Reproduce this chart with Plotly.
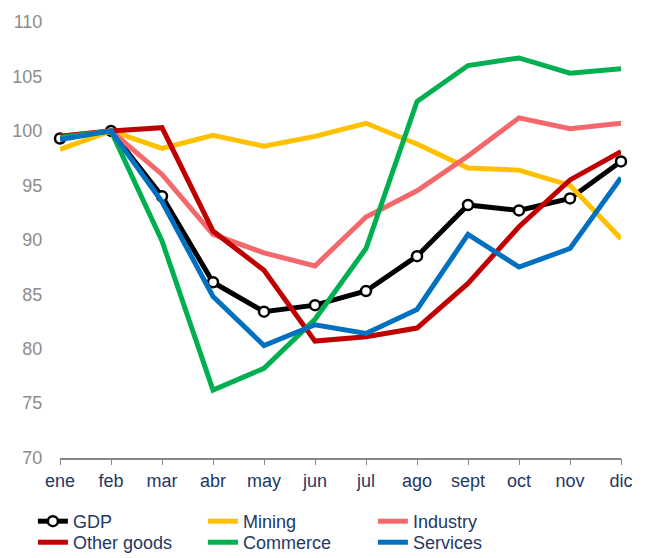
import plotly.graph_objects as go

months = ["ene", "feb", "mar", "abr", "may", "jun", "jul", "ago", "sept", "oct", "nov", "dic"]
gdp = [99.3, 100.0, 94.0, 86.1, 83.4, 84.0, 85.3, 88.5, 93.2, 92.7, 93.8, 97.2]
mining = [98.3, 100.0, 98.4, 99.6, 98.6, 99.5, 100.7, 98.8, 96.6, 96.4, 95.0, 90.1]
industry = [99.5, 100.0, 96.0, 90.5, 88.8, 87.6, 92.1, 94.5, 97.7, 101.2, 100.2, 100.7]
other_goods = [99.5, 100.0, 100.3, 90.8, 87.2, 80.7, 81.1, 81.9, 86.0, 91.2, 95.5, 98.1]
commerce = [99.4, 100.0, 89.9, 76.2, 78.2, 82.7, 89.2, 102.7, 106.0, 106.7, 105.3, 105.7]
services = [99.2, 100.0, 93.5, 84.8, 80.3, 82.2, 81.4, 83.6, 90.5, 87.5, 89.2, 95.7]

y_ticks = [70, 75, 80, 85, 90, 95, 100, 105, 110]

series = [
    ("GDP", gdp, "#000000", "legend"),
    ("Mining", mining, "#FFC000", "legend"),
    ("Industry", industry, "#F4686B", "legend"),
    ("Other goods", other_goods, "#C00000", "legend2"),
    ("Commerce", commerce, "#00B050", "legend2"),
    ("Services", services, "#0070C0", "legend2"),
]

fig = go.Figure()
for name, vals, color, leg in series:
    if name == "GDP":
        fig.add_trace(go.Scatter(
            x=list(range(len(months))), y=vals, name=name, mode="lines+markers",
            line=dict(color=color, width=5),
            marker=dict(symbol="circle", size=10, color="white",
                        line=dict(color=color, width=2.5)),
            cliponaxis=False, legend=leg,
        ))
    else:
        fig.add_trace(go.Scatter(
            x=list(range(len(months))), y=vals, name=name, mode="lines",
            line=dict(color=color, width=5), cliponaxis=False, legend=leg,
        ))

legend_common = dict(
    orientation="h", xref="container", yref="container",
    x=0.051, xanchor="left", yanchor="top",
    entrywidth=125, entrywidthmode="pixels",
    font=dict(size=18, color="#1F3864"),
    tracegroupgap=0, itemwidth=30,
    bgcolor="rgba(0,0,0,0)", borderwidth=0,
)

fig.update_layout(
    width=645, height=558,
    margin=dict(l=58, r=15, t=15, b=96),
    paper_bgcolor="white", plot_bgcolor="white",
    font=dict(family="Liberation Sans, Arial, sans-serif", size=18, color="#1F3864"),
    showlegend=True,
    legend=dict(legend_common, y=0.0986),
    legend2=dict(legend_common, y=0.0609),
    xaxis=dict(
        range=[0, 11], tickmode="array", tickvals=list(range(len(months))),
        ticktext=months, showgrid=False, zeroline=False,
        showline=True, linecolor="#868686", linewidth=1.5,
        ticks="outside", ticklen=6, tickcolor="#868686",
        tickfont=dict(size=18, color="#1F3864"),
    ),
    yaxis=dict(
        range=[70, 110], tickmode="array", tickvals=y_ticks,
        showgrid=False, zeroline=False, showline=False,
        ticks="outside", ticklen=13, tickcolor="rgba(0,0,0,0)",
        tickfont=dict(size=18, color="#8C8C8C"),
    ),
)

fig.write_html("out.html")
